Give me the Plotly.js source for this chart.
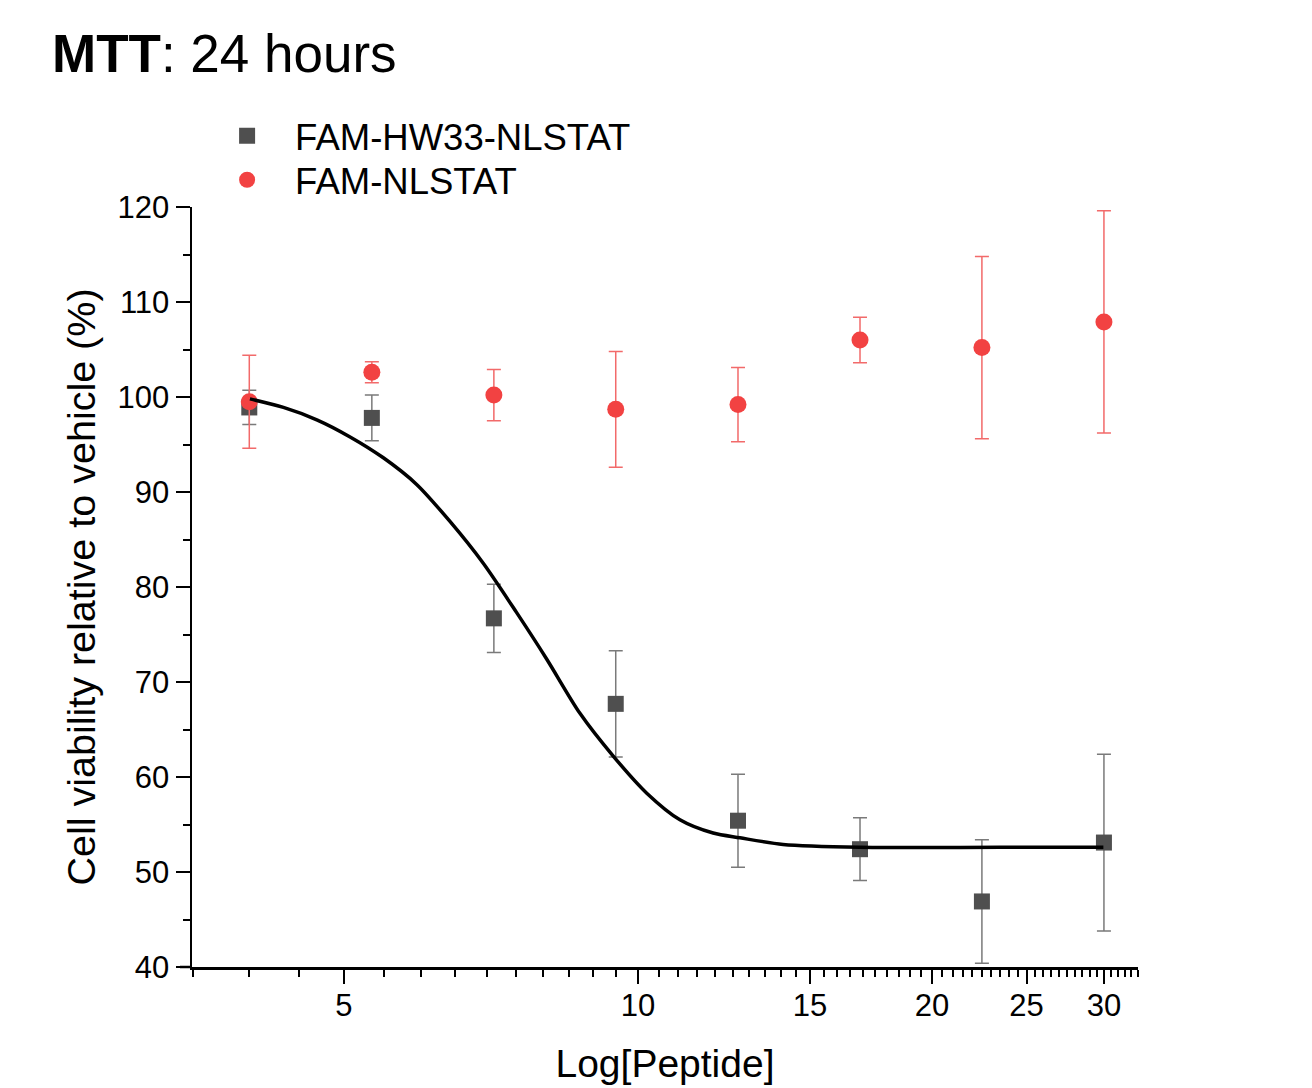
<!DOCTYPE html>
<html>
<head>
<meta charset="utf-8">
<script src="https://cdn.plot.ly/plotly-3.0.1.min.js"></script>
<style>html,body{margin:0;padding:0;background:#fff;}#chart{width:1312px;height:1088px;}</style>
</head>
<body>
<div id="chart"></div>
<script>
// Peptide concentrations (x, log axis)
var concentrations = [4.0, 5.34, 7.12, 9.49, 12.66, 16.88, 22.5, 30.0];

// FAM-HW33-NLSTAT: mean and error
var hw33Mean = [98.9, 97.8, 76.7, 67.7, 55.4, 52.4, 46.9, 53.1];
var hw33Err  = [1.8, 2.4, 3.6, 5.6, 4.9, 3.3, 6.5, 9.3];

// FAM-NLSTAT: mean and error
var nlstatMean = [99.5, 102.6, 100.2, 98.7, 99.2, 106.0, 105.2, 107.9];
var nlstatErr  = [4.9, 1.1, 2.7, 6.1, 3.9, 2.4, 9.6, 11.7];

// Fitted dose-response curve for FAM-HW33-NLSTAT
var fitX = [4.006, 4.335, 4.69, 5.073, 5.487, 5.935, 6.42, 6.944, 7.513, 8.066, 8.722, 9.434, 10.21, 11.04, 11.94, 12.72, 14.08, 16.88, 23.48, 29.96];
var fitY = [99.8, 98.9, 97.6, 95.8, 93.6, 90.8, 86.9, 82.5, 77.3, 72.4, 66.7, 62.2, 58.3, 55.5, 54.1, 53.6, 52.9, 52.6, 52.6, 52.6];

// Axis ticks
var xTickVals = [5, 10, 15, 20, 25, 30];
var xTickText = ['5', '10', '15', '20', '25', '30'];
var seriesNames = ['FAM-HW33-NLSTAT', 'FAM-NLSTAT'];

var xMinor = [];
for (var v = 3.5; v <= 32.6; v += 0.5) {
  var r = Math.round(v * 10) / 10;
  if (xTickVals.indexOf(r) < 0) xMinor.push(r);
}

var FONT = '"Liberation Sans", Arial, Helvetica, sans-serif';

var traces = [
  {
    x: concentrations, y: hw33Mean, name: seriesNames[0], type: 'scatter', mode: 'markers',
    legend: 'legend',
    marker: {symbol: 'square', size: 16, color: '#4f4f4f'},
    error_y: {type: 'data', array: hw33Err, visible: true, color: '#7a7a7a', thickness: 1.5, width: 7}
  },
  {
    x: concentrations, y: nlstatMean, name: seriesNames[1], type: 'scatter', mode: 'markers',
    legend: 'legend2',
    marker: {symbol: 'circle', size: 17, color: '#f24242'},
    error_y: {type: 'data', array: nlstatErr, visible: true, color: '#f26a6a', thickness: 1.5, width: 7}
  },
  {
    x: fitX, y: fitY, type: 'scatter', mode: 'lines', line: {color: '#000', width: 3.5, shape: 'spline', smoothing: 0.8},
    showlegend: false, hoverinfo: 'skip'
  }
];

function legendAt(yPix) {
  return {
    x: 0.0075, y: (967 - yPix) / 760, xanchor: 'left', yanchor: 'middle',
    font: {family: FONT, size: 36.5, color: '#000'},
    bgcolor: 'rgba(0,0,0,0)', itemwidth: 86
  };
}

var layout = {
  width: 1312, height: 1088,
  paper_bgcolor: '#fff', plot_bgcolor: '#fff',
  margin: {l: 192, r: 174, t: 207, b: 121},
  font: {family: FONT, color: '#000', size: 30},
  title: {
    text: '<b>MTT</b>: 24 hours', font: {family: FONT, size: 53, color: '#000'},
    xref: 'container', yref: 'container', x: 52 / 1312, xanchor: 'left', y: 1 - 53 / 1088, yanchor: 'middle'
  },
  showlegend: true,
  legend: legendAt(136),
  legend2: legendAt(180),
  xaxis: {
    type: 'log', range: [0.5434, 1.512],
    tickmode: 'array', tickvals: xTickVals, ticktext: xTickText,
    ticks: 'outside', ticklen: 14, tickwidth: 2, tickcolor: '#000',
    showline: true, linecolor: '#000', linewidth: 2.5,
    showgrid: false, zeroline: false, ticklabelstandoff: -5,
    tickfont: {family: FONT, size: 31, color: '#000'},
    minor: {tickmode: 'array', tickvals: xMinor, ticks: 'outside', ticklen: 7, tickwidth: 2, tickcolor: '#000', showgrid: false},
    title: {text: 'Log[Peptide]', font: {family: FONT, size: 39, color: '#000'}, standoff: 28}
  },
  yaxis: {
    range: [40, 120], tickmode: 'linear', tick0: 40, dtick: 10,
    ticks: 'outside', ticklen: 14, tickwidth: 2, tickcolor: '#000',
    showline: true, linecolor: '#000', linewidth: 2.5,
    showgrid: false, zeroline: false,
    tickfont: {family: FONT, size: 31, color: '#000'},
    minor: {dtick: 5, ticks: 'outside', ticklen: 7, tickwidth: 2, tickcolor: '#000', showgrid: false},
    title: {text: 'Cell viability relative to vehicle (%)', font: {family: FONT, size: 39.5, color: '#000'}, standoff: 10}
  },
  shapes: [
    {type: 'line', xref: 'paper', yref: 'paper', x0: -12 / 946, x1: 0, y0: 0, y1: 0, line: {color: '#000', width: 2.5}}
  ]
};

Plotly.newPlot('chart', traces, layout, {displayModeBar: false, staticPlot: true});
</script>
</body>
</html>
